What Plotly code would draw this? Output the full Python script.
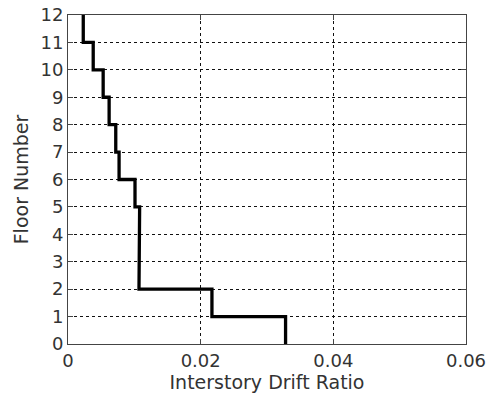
import plotly.graph_objects as go

stories = [1, 2, 3, 4, 5, 6, 7, 8, 9, 10, 11, 12]
drift = [0.0328, 0.0217, 0.0107, 0.0108, 0.0108, 0.0101, 0.0077, 0.0072, 0.0062, 0.0053, 0.0038, 0.0023]
x_ticks = [0, 0.02, 0.04, 0.06]
x_tick_labels = ["0", "0.02", "0.04", "0.06"]
y_ticks = list(range(0, 13))

xs, ys = [], []
for s, d in zip(stories, drift):
    xs += [d, d]
    ys += [s - 1, s]

fig = go.Figure()
fig.add_trace(go.Scatter(x=xs, y=ys, mode="lines",
                         line=dict(color="black", width=3.3), showlegend=False))

tick_font = dict(family="DejaVu Sans, sans-serif", size=18, color="#333333")
title_font = dict(family="DejaVu Sans, sans-serif", size=19, color="#333333")
fig.update_layout(
    width=495, height=398,
    margin=dict(l=68, r=29, t=15, b=54),
    paper_bgcolor="white", plot_bgcolor="white",
    font=tick_font,
)
common = dict(
    showgrid=True, gridcolor="#111", griddash="3px,3px", gridwidth=1,
    showline=True, linecolor="#444", linewidth=1, mirror="ticks",
    ticks="inside", ticklen=5, tickcolor="#444",
    zeroline=False, automargin=False, tickfont=tick_font,
)
fig.update_xaxes(
    range=[0, 0.06], tickvals=x_ticks, ticktext=x_tick_labels,
    title=dict(text="Interstory Drift Ratio", standoff=0, font=title_font),
    **common,
)
fig.update_yaxes(
    range=[0, 12], tickvals=y_ticks,
    title=dict(text="Floor Number", standoff=6, font=title_font),
    **common,
)
fig.write_html("out.html", config={"displayModeBar": False},
               post_script="document.body.style.margin='0px';")
